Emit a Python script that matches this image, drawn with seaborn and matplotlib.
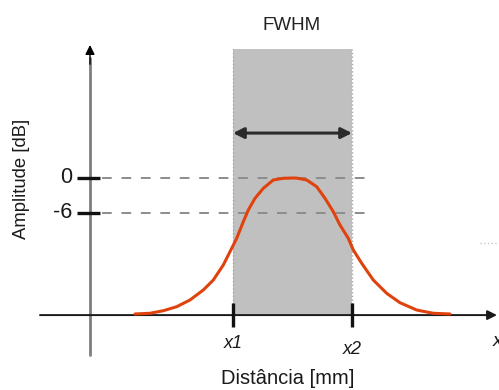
import matplotlib
matplotlib.use("Agg")
import matplotlib.pyplot as plt
import seaborn as sns
import pandas as pd

# Curve (distance in mm, amplitude in dB)
dist_mm = [4.50, 6.00, 7.33, 8.67, 10.00, 11.33, 12.33, 13.33, 14.00, 14.67, 15.33, 15.83,
           16.50, 17.33, 18.33, 19.33, 20.33, 20.67, 21.67, 22.67, 23.50, 24.33, 25.00,
           25.83, 26.33, 27.17, 28.33, 29.67, 31.00, 32.67, 34.33, 36.00]
amp_db = [-23.31, -23.19, -22.75, -22.06, -20.91, -19.20, -17.49, -14.91, -12.63, -10.34,
          -7.49, -5.49, -3.48, -1.77, -0.34, -0.05, 0.0, -0.02, -0.34, -1.49, -3.48, -5.78,
          -8.06, -10.34, -12.34, -14.62, -17.49, -19.77, -21.38, -22.63, -23.19, -23.31]

# FWHM limits and reference levels
fwhm_edges = [14.3, 26.2]
fwhm_labels = ["x1", "x2"]
ref_levels = [0, -6]
ref_labels = ["0", "-6"]
baseline = -23.5

df = pd.DataFrame({"dist": dist_mm, "amp": amp_db})

sns.set_theme(style="white")
plt.rcParams["font.family"] = ["Liberation Sans", "DejaVu Sans"]

fig = plt.figure(figsize=(4.99, 3.90), dpi=100)
ax = fig.add_axes([0, 0, 1, 1])
ax.set_xlim(-9.0, 40.9)
ax.set_ylim(-36.34, 30.51)
ax.axis("off")

# grey FWHM band
ax.fill_between(fwhm_edges, baseline, 22.1, color="#c0c0c0", lw=0, zorder=1)
ax.vlines(fwhm_edges, baseline, 22.1, colors="#a8a8a8", linestyles=":", lw=1, zorder=2)
ax.text(20.2, 26.2, "FWHM", ha="center", va="center", fontsize=13.5, color="#222222")
ax.annotate("", xy=(fwhm_edges[1], 7.7), xytext=(fwhm_edges[0], 7.7),
            arrowprops=dict(arrowstyle="<|-|>", color="#2a2a2a", lw=2.2, mutation_scale=16,
                            shrinkA=0, shrinkB=0), zorder=4)

# dashed reference levels
for lv, lab in zip(ref_levels, ref_labels):
    ax.plot([1.2, 28.4], [lv, lv], color="#8c8c8c", lw=1.4, dashes=(5, 5), zorder=2)
    ax.plot([-1.3, 1.0], [lv, lv], color="#111111", lw=2.4, solid_capstyle="butt", zorder=5)
    ax.text(-1.8, lv, lab, ha="right", va="center", fontsize=15.5, color="#1a1a1a")

# y axis
ax.plot([0, 0], [-30.3, 20.5], color="#7e7e7e", lw=2, zorder=3)
ax.annotate("", xy=(0, 22.8), xytext=(0, 19.5),
            arrowprops=dict(arrowstyle="-|>", color="black", lw=1, mutation_scale=14,
                            shrinkA=0, shrinkB=0), zorder=4)
ax.text(-6.8, -0.2, "Amplitude [dB]", rotation=90, ha="center", va="center",
        fontsize=13.3, color="#1a1a1a")

# x axis
ax.annotate("", xy=(40.7, baseline), xytext=(-5.0, baseline),
            arrowprops=dict(arrowstyle="-|>", color="#1a1a1a", lw=1.4, mutation_scale=14,
                            shrinkA=0, shrinkB=0), zorder=3)
for xe, lab, dy in zip(fwhm_edges, fwhm_labels, [-28.4, -29.4]):
    ax.plot([xe, xe], [-21.4, -25.5], color="#111111", lw=2.4, solid_capstyle="butt", zorder=5)
    ax.text(xe, dy, lab, ha="center", va="center", fontsize=13, style="italic", color="#1a1a1a")
ax.text(40.3, -28.0, "x", ha="left", va="center", fontsize=14, style="italic", color="#1a1a1a")
ax.text(19.8, -34.3, "Distância [mm]", ha="center", va="center", fontsize=14.5, color="#1a1a1a")

# faint dotted mark at right
ax.plot([39.0, 40.9], [-11.1, -11.1], color="#c8c8c8", lw=1, ls=":")

# curve
sns.lineplot(data=df, x="dist", y="amp", ax=ax, color="#e0420e", lw=2.2, zorder=6,
             sort=False, estimator=None)
ax.axis("off")

fig.savefig("out.png", dpi=100)
